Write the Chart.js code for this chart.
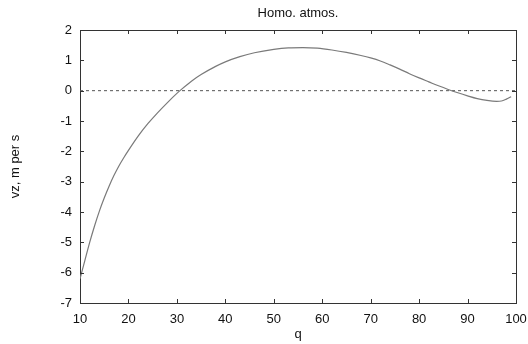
<!DOCTYPE html>
<html>
<head>
<meta charset="utf-8">
<script src="https://cdn.jsdelivr.net/npm/chart.js@4.4.1/dist/chart.umd.min.js"></script>
<style>
  html, body { margin: 0; padding: 0; background: #fff; }
  #wrap { width: 528px; height: 344px; }
</style>
</head>
<body>
<div id="wrap"><canvas id="chart" width="528" height="344"></canvas></div>
<script>
// values
const qValues  = [10, 11, 12, 13, 14, 15, 16, 17, 18, 19, 20, 22, 24, 26, 28, 30, 31, 33, 35, 38, 40, 43, 46, 50, 53, 56, 59, 62, 65, 68, 70, 72, 74, 76, 78, 80, 82, 84, 86, 88, 90, 92, 94, 96, 97, 98, 99];
const vzValues = [-6.2, -5.6, -5.0, -4.46, -3.97, -3.54, -3.15, -2.8, -2.49, -2.22, -1.97, -1.5, -1.09, -0.73, -0.4, -0.09, 0.05, 0.31, 0.53, 0.8, 0.95, 1.12, 1.25, 1.36, 1.41, 1.42, 1.4, 1.34, 1.26, 1.16, 1.08, 0.98, 0.85, 0.71, 0.56, 0.42, 0.29, 0.16, 0.04, -0.07, -0.17, -0.26, -0.32, -0.35, -0.34, -0.28, -0.2];
const zeroLine = [0, 0];
const xRange = [10, 100];
const yRange = [-7, 2];

const textFont = "'Liberation Sans', Arial, sans-serif";
const textColor = "#111";
const inkColor = "#333";

// frame on top/right and inward ticks on all four sides
const frameTicks = {
  id: "frameTicks",
  afterDatasetsDraw(chart) {
    const { ctx, chartArea: a, scales } = chart;
    const len = 4;
    ctx.save();
    ctx.strokeStyle = inkColor;
    ctx.lineWidth = 1;
    ctx.beginPath();
    ctx.moveTo(a.left, a.top + 0.5);
    ctx.lineTo(a.right + 0.5, a.top + 0.5);
    ctx.lineTo(a.right + 0.5, a.bottom);
    scales.x.ticks.forEach((t) => {
      const px = Math.round(scales.x.getPixelForValue(t.value)) + 0.5;
      ctx.moveTo(px, a.top); ctx.lineTo(px, a.top + len);
      ctx.moveTo(px, a.bottom); ctx.lineTo(px, a.bottom - len);
    });
    scales.y.ticks.forEach((t) => {
      const py = Math.round(scales.y.getPixelForValue(t.value)) + 0.5;
      ctx.moveTo(a.left, py); ctx.lineTo(a.left + len, py);
      ctx.moveTo(a.right, py); ctx.lineTo(a.right - len, py);
    });
    ctx.stroke();
    ctx.restore();
  },
};

new Chart(document.getElementById("chart"), {
  type: "line",
  data: {
    datasets: [
      {
        data: qValues.map((q, i) => ({ x: q, y: vzValues[i] })),
        borderColor: "#7a7a7a",
        borderWidth: 1.2,
        pointRadius: 0,
        cubicInterpolationMode: "monotone",
        fill: false,
      },
      {
        data: xRange.map((q, i) => ({ x: q, y: zeroLine[i] })),
        borderColor: "#555",
        borderWidth: 1,
        borderDash: [3, 3],
        pointRadius: 0,
        fill: false,
      },
    ],
  },
  options: {
    responsive: false,
    animation: false,
    layout: { padding: { left: 0, right: 0, top: 0, bottom: 0 } },
    plugins: {
      legend: { display: false },
      tooltip: { enabled: false },
      title: {
        display: true,
        text: "Homo. atmos.",
        fullSize: false,
        color: textColor,
        font: { family: textFont, size: 13, weight: "normal" },
        padding: { top: 6, bottom: 8.4 },
      },
    },
    scales: {
      x: {
        type: "linear",
        min: xRange[0],
        max: xRange[1],
        ticks: { stepSize: 10, color: textColor, padding: 9, font: { family: textFont, size: 13 } },
        grid: { display: false, drawTicks: false },
        border: { display: true, color: inkColor, width: 1 },
        title: { display: true, text: "q", color: textColor, font: { family: textFont, size: 13 }, padding: { top: 0, bottom: 2 } },
        afterFit: (s) => { s.height = 41; s.paddingRight = 12; s.paddingLeft = 0; },
      },
      y: {
        min: yRange[0],
        max: yRange[1],
        ticks: { stepSize: 1, color: textColor, padding: 8, font: { family: textFont, size: 13 } },
        grid: { display: false, drawTicks: false },
        border: { display: true, color: inkColor, width: 1 },
        title: { display: true, text: "vz, m per s", color: textColor, font: { family: textFont, size: 13 }, padding: { top: 8, bottom: 4 } },
        afterFit: (s) => { s.width = 80; },
      },
    },
  },
  plugins: [frameTicks],
});
</script>
</body>
</html>
